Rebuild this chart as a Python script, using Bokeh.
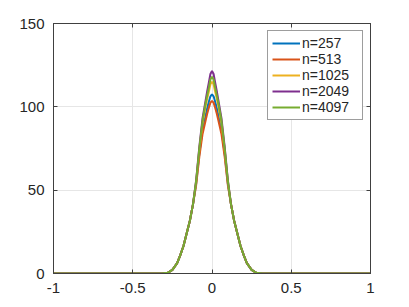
from bokeh.plotting import figure
from bokeh.models import LinearAxis, FixedTicker, Range1d, Legend, LegendItem
from bokeh.embed import file_html
from bokeh.resources import INLINE

# shared sample positions
x = [-1, -0.32, -0.28, -0.25, -0.22, -0.20, -0.18, -0.16, -0.14, -0.12, -0.10,
     -0.08, -0.06, -0.04, -0.03, -0.02, -0.01, 0, 0.01, 0.02, 0.03, 0.04, 0.06, 0.08,
     0.10, 0.12, 0.14, 0.16, 0.18, 0.20, 0.22, 0.25, 0.28, 0.32, 1]

tail_left = [0, 0, 0.4, 2.2, 6.2, 11, 16.5, 24, 31.5, 41.5]
tail_right = [41.5, 31.5, 24, 16.5, 11, 6.2, 2.2, 0.4, 0, 0]

y_257 = tail_left + [54, 72, 86, 95, 99.3, 103, 106.3, 107.5, 106.3, 103, 99.3, 95, 86, 72, 54] + tail_right
y_513 = tail_left + [53, 70, 83.5, 92, 96, 99.5, 102.5, 103.5, 102.5, 99.5, 96, 92, 83.5, 70, 53] + tail_right
y_1025 = tail_left + [55, 74, 90, 100.5, 105, 109, 113.5, 115, 113.5, 109, 105, 100.5, 90, 74, 55] + tail_right
y_2049 = tail_left + [56, 76, 93, 104, 109.5, 114.5, 119.7, 121.5, 119.7, 114.5, 109.5, 104, 93, 76, 56] + tail_right
y_4097 = tail_left + [55.5, 75, 91.5, 102.5, 107, 111.5, 116.4, 118, 116.4, 111.5, 107, 102.5, 91.5, 75, 55.5] + tail_right

labels = ["n=257", "n=513", "n=1025", "n=2049", "n=4097"]
series = [y_257, y_513, y_1025, y_2049, y_4097]
colors = ["#0072BD", "#D95319", "#EDB120", "#7E2F8E", "#77AC30"]

x_ticks = [-1, -0.5, 0, 0.5, 1]
x_tick_labels = ["-1", "-0.5", "0", "0.5", "1"]
y_ticks = [0, 50, 100, 150]
y_tick_labels = ["0", "50", "100", "150"]

FONT = "Liberation Sans"
AX = "#404040"
TXT = "#262626"

p = figure(width=401, height=299, output_backend="svg", toolbar_location=None,
           x_range=Range1d(-1, 1), y_range=Range1d(0, 150),
           min_border_left=53, min_border_right=31, min_border_top=23, min_border_bottom=26)
p.background_fill_color = "white"
p.border_fill_color = "white"
p.outline_line_color = AX

items = []
for lab, ys, c in zip(labels, series, colors):
    r = p.line(x, ys, line_color=c, line_width=2)
    items.append(LegendItem(label=lab, renderers=[r]))

for g, t in ((p.xgrid, x_ticks), (p.ygrid, y_ticks)):
    g.ticker = FixedTicker(ticks=t)
    g.grid_line_color = "#e6e6e6"
    g.grid_line_width = 1

def style(ax, ticks, tick_labels, show_labels, standoff):
    ax.ticker = FixedTicker(ticks=ticks)
    ax.major_label_overrides = {t: s for t, s in zip(ticks, tick_labels)}
    ax.axis_line_color = AX
    ax.major_tick_line_color = AX
    ax.major_tick_in = 4
    ax.major_tick_out = 0
    ax.minor_tick_line_color = None
    ax.major_label_text_font = FONT
    ax.major_label_text_font_size = "15px"
    ax.major_label_standoff = standoff
    ax.major_label_text_color = TXT if show_labels else None

style(p.xaxis[0], x_ticks, x_tick_labels, True, 9)
style(p.yaxis[0], y_ticks, y_tick_labels, True, 9)
top = LinearAxis()
right = LinearAxis()
style(top, x_ticks, x_tick_labels, False, 0)
style(right, y_ticks, y_tick_labels, False, 0)
p.add_layout(top, "above")
p.add_layout(right, "right")

leg = Legend(items=items, location="top_right")
leg.margin = 7
leg.padding = 4
leg.spacing = 0
leg.glyph_width = 28
leg.glyph_height = 16
leg.label_height = 16
leg.label_width = 56
leg.label_standoff = 2
leg.label_text_font = FONT
leg.label_text_font_size = "14px"
leg.label_text_color = TXT
leg.border_line_color = "#3c3c3c"
leg.border_line_width = 1
leg.background_fill_color = "white"
leg.background_fill_alpha = 1
p.add_layout(leg)

open("out.html", "w").write(file_html(p, INLINE))
